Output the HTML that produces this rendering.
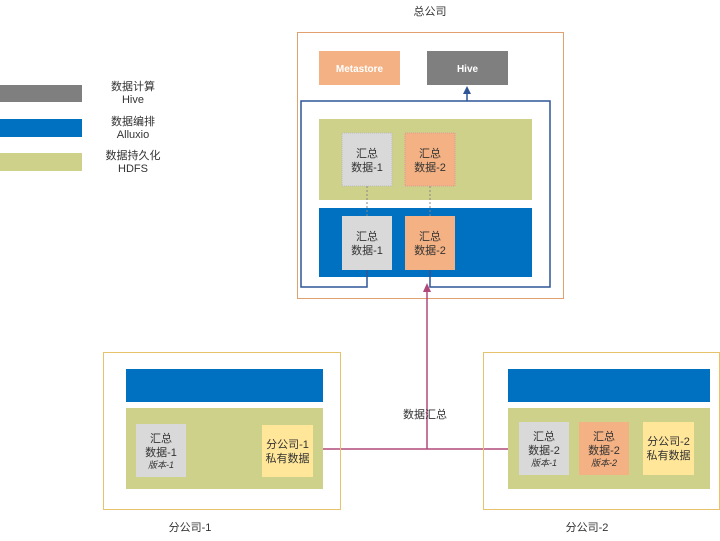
<!DOCTYPE html>
<html><head><meta charset="utf-8"><style>
html,body{margin:0;padding:0;background:#fff;}
svg{display:block;}
text{font-family:"Liberation Sans","Noto Sans CJK SC",sans-serif;font-size:11px;fill:#333;}
.b{font-weight:bold;fill:#fff;font-size:10px;}
.i{font-style:italic;font-size:9px;}
</style></head><body>
<svg width="720" height="541" viewBox="0 0 720 541" xmlns="http://www.w3.org/2000/svg">
<!-- legend -->
<rect x="0" y="85" width="82" height="17" fill="#7f7f7f"/>
<rect x="0" y="119" width="82" height="18" fill="#0070c0"/>
<rect x="0" y="153" width="82" height="18" fill="#cdd18a"/>
<text x="133" y="90" text-anchor="middle">数据计算</text>
<text x="133" y="103" text-anchor="middle">Hive</text>
<text x="133" y="125" text-anchor="middle">数据编排</text>
<text x="133" y="138" text-anchor="middle">Alluxio</text>
<text x="133" y="159" text-anchor="middle">数据持久化</text>
<text x="133" y="172" text-anchor="middle">HDFS</text>

<!-- HQ -->
<text x="430" y="15" text-anchor="middle">总公司</text>
<rect x="297.5" y="32.5" width="266" height="266" fill="none" stroke="#e0a070" stroke-width="1"/>
<rect x="319" y="51" width="81" height="34" fill="#f4b183"/>
<text x="359.5" y="72" text-anchor="middle" class="b">Metastore</text>
<rect x="427" y="51" width="81" height="34" fill="#7f7f7f"/>
<text x="467.5" y="72" text-anchor="middle" class="b">Hive</text>
<rect x="319" y="119" width="213" height="81" fill="#cdd18a"/>
<rect x="319" y="208" width="213" height="69" fill="#0070c0"/>
<line x1="367" y1="186" x2="367" y2="216" stroke="#888" stroke-dasharray="2,2"/>
<line x1="430" y1="186" x2="430" y2="216" stroke="#888" stroke-dasharray="2,2"/>
<rect x="342" y="133" width="50" height="53" fill="#d9d9d9" stroke="#bbb" stroke-dasharray="1,1"/>
<rect x="405" y="133" width="50" height="53" fill="#f4b183" stroke="#d99" stroke-dasharray="1,1"/>
<rect x="342" y="216" width="50" height="54" fill="#d9d9d9"/>
<rect x="405" y="216" width="50" height="54" fill="#f4b183"/>
<text x="367" y="157" text-anchor="middle">汇总</text><text x="367" y="171" text-anchor="middle">数据-1</text>
<text x="430" y="157" text-anchor="middle">汇总</text><text x="430" y="171" text-anchor="middle">数据-2</text>
<text x="367" y="240" text-anchor="middle">汇总</text><text x="367" y="254" text-anchor="middle">数据-1</text>
<text x="430" y="240" text-anchor="middle">汇总</text><text x="430" y="254" text-anchor="middle">数据-2</text>
<!-- blue outline connector -->
<polyline points="367,270 367,287 301,287 301,101 550,101 550,287 430,287 430,270" fill="none" stroke="#2f5597" stroke-width="1.5"/>
<line x1="467" y1="101" x2="467" y2="92" stroke="#2f5597" stroke-width="1.5"/>
<polygon points="467,86 463,94 471,94" fill="#2f5597"/>

<!-- magenta -->
<line x1="427" y1="290" x2="427" y2="449" stroke="#b0487a" stroke-width="1.5"/>
<polygon points="427,283 423,292 431,292" fill="#b0487a"/>
<line x1="313" y1="449" x2="519" y2="449" stroke="#b0487a" stroke-width="1.5"/>
<text x="425" y="418" text-anchor="middle" font-size="10">数据汇总</text>

<!-- branch 1 -->
<rect x="103.5" y="352.5" width="237" height="157" fill="none" stroke="#e6c36a"/>
<rect x="126" y="369" width="197" height="33" fill="#0070c0"/>
<rect x="126" y="408" width="197" height="81" fill="#cdd18a"/>
<rect x="136" y="424" width="50" height="53" fill="#d9d9d9"/>
<text x="161" y="442" text-anchor="middle">汇总</text><text x="161" y="456" text-anchor="middle">数据-1</text><text x="161" y="468" text-anchor="middle" class="i">版本-1</text>
<rect x="262" y="425" width="51" height="52" fill="#ffe699"/>
<text x="287.5" y="448" text-anchor="middle">分公司-1</text><text x="287.5" y="462" text-anchor="middle">私有数据</text>
<text x="190" y="531" text-anchor="middle">分公司-1</text>

<!-- branch 2 -->
<rect x="483.5" y="352.5" width="236" height="157" fill="none" stroke="#e6c36a"/>
<rect x="508" y="369" width="202" height="33" fill="#0070c0"/>
<rect x="508" y="408" width="202" height="81" fill="#cdd18a"/>
<rect x="519" y="422" width="50" height="53" fill="#d9d9d9"/>
<text x="544" y="440" text-anchor="middle">汇总</text><text x="544" y="454" text-anchor="middle">数据-2</text><text x="544" y="466" text-anchor="middle" class="i">版本-1</text>
<rect x="579" y="422" width="50" height="53" fill="#f4b183"/>
<text x="604" y="440" text-anchor="middle">汇总</text><text x="604" y="454" text-anchor="middle">数据-2</text><text x="604" y="466" text-anchor="middle" class="i">版本-2</text>
<rect x="643" y="422" width="51" height="53" fill="#ffe699"/>
<text x="668.5" y="445" text-anchor="middle">分公司-2</text><text x="668.5" y="459" text-anchor="middle">私有数据</text>
<text x="587" y="531" text-anchor="middle">分公司-2</text>
</svg>
</body></html>
